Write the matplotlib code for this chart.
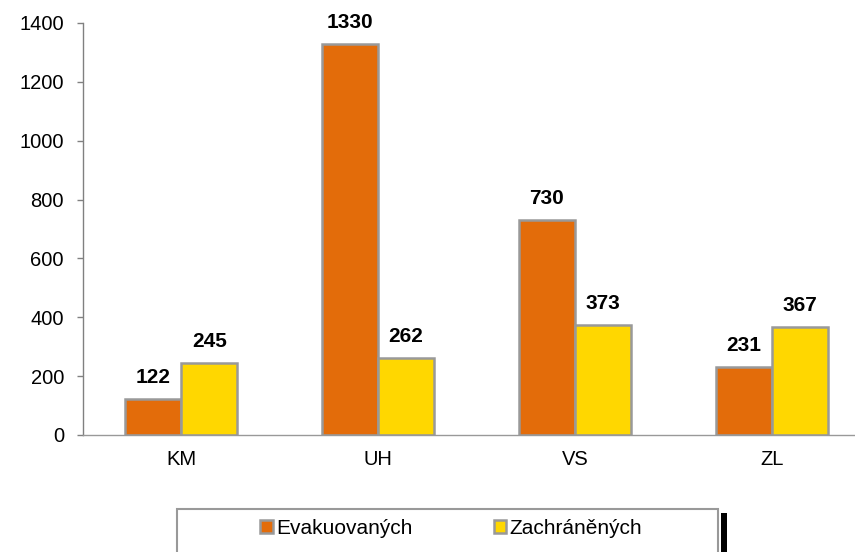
import matplotlib
matplotlib.use("Agg")
import matplotlib.pyplot as plt
from matplotlib.patches import Rectangle
import numpy as np

plt.rcParams['font.family'] = ['Liberation Sans', 'DejaVu Sans']

categories = ["KM", "UH", "VS", "ZL"]
evakuovanych = [122, 1330, 730, 231]
zachranenych = [245, 262, 373, 367]
series_names = ["Evakuovaných", "Zachráněných"]
yticks = [0, 200, 400, 600, 800, 1000, 1200, 1400]

W, H = 855, 552
fig = plt.figure(figsize=(W / 100, H / 100), dpi=100)
ax = fig.add_axes([83 / W, 1 - 435 / H, (870 - 83) / W, (435 - 23) / H])

x = np.arange(len(categories))
bw = 0.285
edge = "#999999"
b1 = ax.bar(x - bw / 2, evakuovanych, bw, color="#E36C0A", edgecolor=edge, linewidth=1.8, label=series_names[0])
b2 = ax.bar(x + bw / 2, zachranenych, bw, color="#FFD700", edgecolor=edge, linewidth=1.8, label=series_names[1])

for bars, vals in ((b1, evakuovanych), (b2, zachranenych)):
    for r, v in zip(bars, vals):
        ax.annotate(str(v), (r.get_x() + r.get_width() / 2, v), xytext=(0, 11.5),
                    textcoords="offset points", ha="center", va="baseline",
                    fontsize=15, fontweight="bold")

ax.set_xlim(-0.5, 3.5)
ax.set_ylim(0, 1400)
ax.set_yticks(yticks)
ax.set_xticks(x)
ax.set_xticklabels(categories)
ax.tick_params(axis="y", labelsize=14.5, length=4.3, width=1.0, color="#808080", pad=9.4)
ax.tick_params(axis="x", labelsize=14.5, length=0, pad=11)
for s in ("top", "right"):
    ax.spines[s].set_visible(False)
ax.spines["left"].set_color("#808080")
ax.spines["bottom"].set_color("#999999")
for s in ("left", "bottom"):
    ax.spines[s].set_linewidth(1.0)

# legend frame
fig.patches.append(Rectangle((177 / W, -0.05), (718 - 177) / W, (552 - 509) / H + 0.05,
                             transform=fig.transFigure, facecolor="white",
                             edgecolor="#999999", linewidth=1.5, zorder=1))
fig.patches.append(Rectangle((721 / W, 0), 6 / W, (552 - 513) / H,
                             transform=fig.transFigure, facecolor="black",
                             edgecolor="none", zorder=1))
leg = fig.legend(handles=[b1, b2], labels=series_names, loc="center",
                 bbox_to_anchor=(451 / W, 1 - 528 / H), ncol=2, frameon=False,
                 fontsize=15, handlelength=0.6, handleheight=0.6,
                 handletextpad=0.15, columnspacing=3.9)

fig.savefig("out.png", dpi=100)
